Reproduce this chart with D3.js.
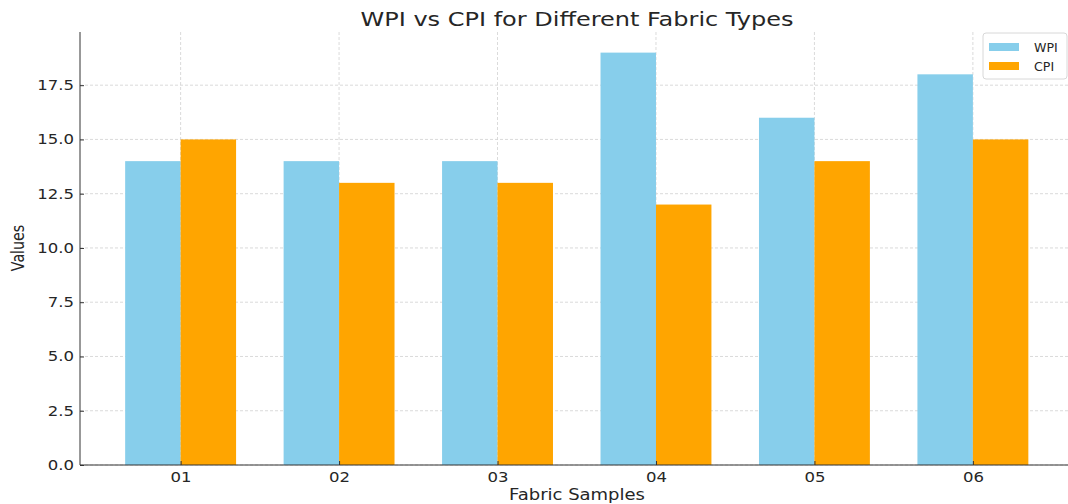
<!DOCTYPE html>
<html>
<head>
<meta charset="utf-8">
<script src="https://cdn.jsdelivr.net/npm/d3@7"></script>
<style>
  body { margin: 0; background: #fff; }
  text { font-family: "DejaVu Sans", sans-serif; fill: #262626; }
  .grid line { stroke: #d0d0d0; stroke-dasharray: 3,2; stroke-width: 0.8; }
  .axis path, .axis line { stroke: #333; }
</style>
</head>
<body>
<svg id="chart" width="1068" height="504"></svg>
<script>
// data
var samples = ["01", "02", "03", "04", "05", "06"];
var wpi = [14, 14, 14, 19, 16, 18];
var cpi = [15, 13, 13, 12, 14, 15];
var yTicks = [0, 2.5, 5, 7.5, 10, 12.5, 15, 17.5];
var seriesNames = ["WPI", "CPI"];
var colors = ["#87CEEB", "#FFA500"];

var margin = { top: 32, left: 80, bottom: 39 },
  width = 1068,
  height = 504,
  plotBottom = height - margin.bottom;

var barW = 0.35;
// matplotlib style limits with 5% margins
var x = d3.scaleLinear().domain([-0.635, 5.635]).range([margin.left, 1073.5]);
var y = d3.scaleLinear().domain([0, 19.95]).range([plotBottom, margin.top]);

var svg = d3.select("#chart");
var sx = 1.18; // glyphs in the picture look stretched sideways

// grid
svg.append("g").attr("class", "grid")
  .selectAll("line.h").data(yTicks).enter().append("line")
  .attr("x1", margin.left).attr("x2", width)
  .attr("y1", function(d) { return y(d); })
  .attr("y2", function(d) { return y(d); });

svg.select(".grid")
  .selectAll("line.v").data(samples).enter().append("line")
  .attr("x1", function(d, i) { return x(i); })
  .attr("x2", function(d, i) { return x(i); })
  .attr("y1", margin.top).attr("y2", plotBottom);

// bars
var series = [wpi, cpi];
series.forEach(function(vals, s) {
  svg.append("g")
    .selectAll("rect").data(vals).enter().append("rect")
    .attr("x", function(d, i) { return x(i - barW + s * barW); })
    .attr("width", function() { return x(barW) - x(0); })
    .attr("y", function(d) { return y(d); })
    .attr("height", function(d) { return y(0) - y(d); })
    .attr("fill", colors[s]);
});

// axes
var xAxis = svg.append("g").attr("class", "axis")
  .attr("transform", "translate(0," + plotBottom + ")")
  .call(d3.axisBottom(x).tickValues(d3.range(samples.length))
    .tickFormat(function(i) { return samples[i]; })
    .tickSizeInner(-4).tickSizeOuter(0).tickPadding(7));
xAxis.select(".domain").attr("d", "M" + margin.left + ",0H" + width);

var yAxis = svg.append("g").attr("class", "axis")
  .attr("transform", "translate(" + margin.left + ",0)")
  .call(d3.axisLeft(y).tickValues(yTicks).tickFormat(d3.format(".1f"))
    .tickSizeInner(-4).tickSizeOuter(0).tickPadding(6));
yAxis.select(".domain").attr("d", "M0," + margin.top + "V" + plotBottom);

svg.selectAll(".axis path, .axis line").attr("stroke", "#333");
svg.selectAll(".axis text")
  .style("font-size", "14px").style("font-family", "DejaVu Sans").attr("fill", "#262626");
xAxis.selectAll("text").attr("transform", "scale(" + sx + ",1)");
yAxis.selectAll("text").attr("transform", "scale(" + sx + ",1)")
  .attr("x", -6 / sx - 0);

// title and axis labels
svg.append("text")
  .attr("transform", "translate(577,26) scale(1.2,1)")
  .attr("text-anchor", "middle")
  .style("font-size", "20px")
  .text("WPI vs CPI for Different Fabric Types");

svg.append("text")
  .attr("transform", "translate(577,500) scale(1.2,1)")
  .attr("text-anchor", "middle")
  .style("font-size", "15px")
  .text("Fabric Samples");

svg.append("text")
  .attr("transform", "translate(24,248) rotate(-90) scale(0.95,1.18)")
  .attr("text-anchor", "middle")
  .style("font-size", "15px")
  .text("Values");

// legend
var lg = svg.append("g").attr("transform", "translate(983,33)");
lg.append("rect")
  .attr("width", 84).attr("height", 46).attr("rx", 3)
  .attr("fill", "#fff").attr("fill-opacity", 0.85)
  .attr("stroke", "#d8d8d8");
seriesNames.forEach(function(name, i) {
  lg.append("rect")
    .attr("x", 6).attr("y", 10 + i * 19)
    .attr("width", 30).attr("height", 8)
    .attr("fill", colors[i]);
  lg.append("text")
    .attr("transform", "translate(51," + (19 + i * 19) + ") scale(1.05,1)")
    .style("font-size", "12px")
    .text(name);
});
</script>
</body>
</html>
